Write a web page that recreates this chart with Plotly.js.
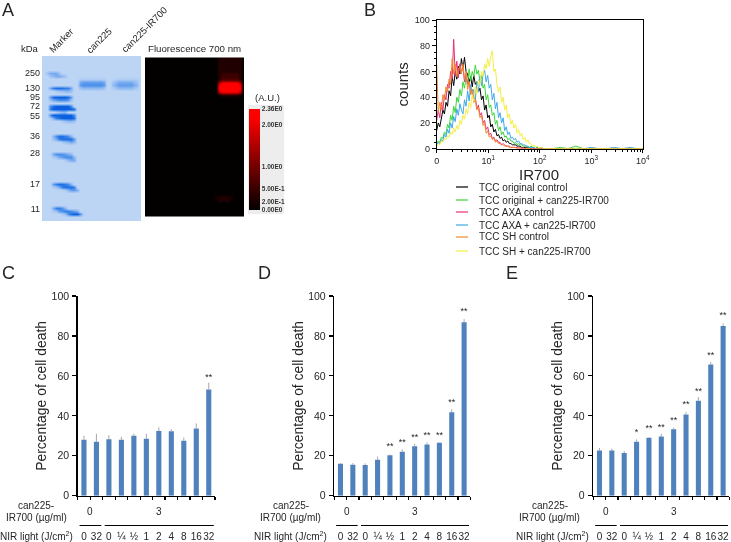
<!DOCTYPE html>
<html><head><meta charset="utf-8">
<script src="https://cdn.plot.ly/plotly-3.0.1.min.js"></script>
<style>html,body{margin:0;padding:0;background:#fff}#chart{width:731px;height:542px;filter:blur(0.35px)}</style>
</head><body><div id="chart"></div>
<script>
// ---------- Panel A: gel image rows (digit = stain intensity 0-9), 3 px cells
const gelRows = [
"","","","","",
"0244420000",
"0023443200",
"000000000000111111111000111111110",
"000000000000455555554002344444320",
"000000000000566666665003455555430",
"004788877400233333332001233333210",
"000012233200",
"",
"0058999985",
"0024566652",
"",
"0068999996",
"00799999998",
"00001233",
"00699999996",
"00147899998",
"00000012332",
"","","","",
"0003688763",
"00024788885",
"00000012343",
"","","",
"0004666543",
"00012456663",
"00000001344",
"","","","","","","",
"0005788763",
"00012478887",
"000000013554",
"","","","","",
"00047763",
"000125677654",
"00000012689961",
"",""
];
const fluoRows = [
"000000000000000000000000111111110",
"000000000000000000000000111111110",
"000000000000000000000000111111110",
"000000000000000000000000111111110",
"000000000000000000000000111111110",
"000000000000000000000000122222210",
"000000000000000000000000122222210",
"000000000000000000000000233333320",
"000000000000000000000000699999960",
"000000000000000000000000899999980",
"000000000000000000000000899999980",
"000000000000000000000000688888860",
"000000000000000000000000011111100",
"","","","","","","","","","","","","","","","","",
"","","","","","","","","","","","","","","","",
"000000000000000000000001111110",
"000000000000000000000000111100",
"","","","",""
];
const kdaLabels = ["250","130","95","72","55","36","28","17","11"];
const kdaRowPos = [17,32,41,50,60,80,97,128,153];
const scaleVals = [0,0.2,0.5,1,2,2.36];
const scaleText = ["0.00E0","2.00E-1","5.00E-1","1.00E0","2.00E0","2.36E0"];

// ---------- Panel B: flow histograms
const channelLog = [0,.03,.06,.09,.12,.15,.18,.21,.24,.27,
.3,.33,.36,.39,.42,.45,.48,.51,.54,.57,
.6,.63,.66,.69,.72,.75,.78,.81,.84,.87,
.9,.93,.96,.99,1.02,1.05,1.08,1.11,1.14,1.17,
1.2,1.23,1.26,1.29,1.32,1.35,1.38,1.41,1.44,1.47,
1.5,1.53,1.56,1.59,1.62,1.65,1.68,1.71,1.74,1.77,
1.8,1.83,1.86,1.89,1.92,1.95,1.98,2.01,2.04,2.07,
2.1,2.25,2.4,2.55,2.7,2.85,3,3.15,3.3,3.45,3.6,3.75,3.9,4];
const origControl = [14,20,17,24,30,27,36,33,45,41,
56,49,60,54,64,58,70,62,71,60,
58,52,56,48,57,50,52,44,47,38,
41,30,34,24,26,17,19,13,15,10,
11,8,9,6,7,5,6,4,4,3,
3,3,2,2,2,1,1,1,1,1,
1,0,1,0,0,1,0,0,0,0,
0,0,0,0,0,0,0,0,0,0,0,0,0,0];
const origIR = [4,6,5,9,8,13,11,19,16,26,
22,33,28,40,36,46,41,52,47,55,
50,62,53,60,56,65,58,61,52,57,
47,50,38,42,32,34,26,28,19,22,
14,17,11,13,9,10,7,8,6,6,
4,5,3,4,3,3,2,2,2,1,
1,2,1,1,0,1,0,1,0,0,
0,0,1,0,2,0,0,0,0,0,0,0,0,0];
const axaControl = [22,30,24,36,30,42,38,50,47,60,
54,85,57,68,55,66,60,63,52,58,
50,52,43,46,38,40,31,34,26,28,
20,22,15,17,11,12,8,9,6,7,
5,5,3,4,3,2,2,2,1,1,
1,1,1,0,1,0,0,0,1,0,
0,0,0,0,0,0,0,0,0,0,
0,0,0,0,0,0,0,0,0,0,0,0,0,0];
const axaIR = [3,5,4,7,6,11,9,15,12,20,
16,25,21,31,26,35,30,27,38,33,
45,37,50,42,46,38,52,44,56,49,
58,61,52,57,47,50,38,43,31,36,
24,28,20,24,14,17,11,13,8,9,
7,8,5,6,4,4,3,3,2,2,
1,1,1,1,0,1,0,0,1,0,
0,0,0,0,0,0,1,0,0,1,0,1,0,0];
const shControl = [65,28,36,30,42,38,48,44,54,50,
70,58,66,56,62,64,58,66,54,60,
46,52,42,46,36,38,30,32,24,26,
18,20,12,14,9,10,7,8,5,6,
4,4,3,3,2,2,2,1,1,1,
1,1,0,1,0,0,1,0,0,0,
0,0,0,0,0,0,0,0,0,0,
0,0,0,0,0,0,0,0,0,0,0,0,0,0];
const shIR = [2,4,3,6,5,8,7,10,9,13,
11,16,13,18,15,22,19,26,23,31,
27,36,32,42,37,48,43,54,50,60,
56,66,62,70,64,72,76,60,62,50,
44,48,36,40,30,34,24,27,19,22,
16,19,12,15,10,12,7,9,5,7,
4,4,2,3,1,2,1,1,1,0,
0,0,0,0,0,0,0,0,0,0,0,0,0,0];
const flowNames = ["TCC original control","TCC original + can225-IR700","TCC AXA control","TCC AXA + can225-IR700","TCC SH control","TCC SH + can225-IR700"];
const flowColors = ["#000000","#39d639","#e8307a","#3fa9e8","#f08a2c","#f5ee45"];

// ---------- Panels C, D, E: cell death bars
const barPos = [0,1,2,3,4,5,6,7,8,9,10];
const doseLabels = ["0","32","0","¼","½","1","2","4","8","16","32"];
const cValues = [28,27,28.3,28,30,28.5,32.4,32.3,27.5,33.7,53.2];
const cErrors = [2,4,2,1.5,1,2.5,1.8,1,1.6,2.5,3.4];
const cStarPos = [10], cStarY = [59], cStarText = ["**"];
const dValues = [16,15.5,15.4,18,20.2,22,24.7,25.7,26.5,41.8,86.9];
const dErrors = [0.4,0.8,0.8,1.6,0.5,1.2,1.2,1,0.2,1.5,1.5];
const dStarPos = [4,5,6,7,8,9,10], dStarY = [24.3,26.5,29,30,30,46.7,92], dStarText = ["**","**","**","**","**","**","**"];
const eValues = [22.6,22.6,21.4,27,29,29.6,33.3,40.7,47.6,65.7,85];
const eErrors = [1.3,1,1,1.2,0.3,1.4,0.8,1.2,1.8,1.2,1.2];
const eStarPos = [3,4,5,6,7,8,9,10], eStarY = [31.5,33.5,34,37.4,45.4,52,70,90], eStarText = ["*","**","**","**","**","**","**","**"];
const edgeTicks = [-0.5,0.5,1.5,2.5,3.5,4.5,5.5,6.5,7.5,8.5,9.5,10.5];

// ---------- helpers
const W = 731, H = 542;
const FONT = "Liberation Sans, Arial, sans-serif", INK = "#262626";
const domX = (a,b)=>[a/W,b/W], domY = (t,b)=>[1-b/H,1-t/H];
const px = x=>x/W, py = y=>1-y/H;
const digits = (rows,scale)=>rows.map(r=>r.padEnd(33,"0").split("").map(c=>+c*scale));
const note = (text,x,y,size,extra)=>Object.assign({text,x:px(x),y:py(y),xref:"paper",yref:"paper",showarrow:false,
  font:{family:FONT,size,color:INK},xanchor:"center",yanchor:"middle"},extra||{});

const gelX = digits(gelRows,1)[0].map((_,i)=>1.5+3*i);
const gelY = gelRows.map((_,i)=>1.5+3*i);

const traces = [
 {type:"heatmap",xaxis:"x",yaxis:"y",x:gelX,y:gelY,z:digits(gelRows,1),zmin:0,zmax:9,zsmooth:"best",showscale:false,
  colorscale:[[0,"#BDD5F5"],[0.33,"#8FB9F1"],[0.66,"#4A90EB"],[1,"#0B5FE0"]]},
 {type:"heatmap",xaxis:"x2",yaxis:"y2",x:gelX,y:gelY,z:digits(fluoRows,2.36/9),zmin:0,zmax:2.36,zsmooth:"best",
  colorscale:[[0,"#030000"],[0.42,"#700000"],[0.92,"#ff0000"],[1,"#ff0000"]],
  colorbar:{thicknessmode:"pixels",thickness:11,lenmode:"pixels",len:109,x:px(248),xanchor:"left",y:py(105),yanchor:"top",
    xpad:1,ypad:4,bgcolor:"#EDEDED",outlinewidth:0,tickmode:"array",tickvals:scaleVals,ticktext:scaleText,ticks:"",
    tickfont:{family:FONT,size:6.5,color:"#333",weight:"bold"}}}
];
flowNames.forEach((n,i)=>{
  const ys=[origControl,origIR,axaControl,axaIR,shControl,shIR][i];
  traces.push({type:"scatter",mode:"lines",name:n,xaxis:"x3",yaxis:"y3",x:channelLog.map(p=>Math.pow(10,p)),y:ys,
    line:{color:flowColors[i],width:1},cliponaxis:true,showlegend:false});
});
[[cValues,cErrors,cStarPos,cStarY,cStarText],[dValues,dErrors,dStarPos,dStarY,dStarText],[eValues,eErrors,eStarPos,eStarY,eStarText]].forEach((s,i)=>{
  const a=i+4;
  traces.push({type:"bar",xaxis:"x"+a,yaxis:"y"+a,x:barPos,y:s[0],width:0.41,marker:{color:"#4F81BD"},showlegend:false,
    error_y:{type:"data",array:s[1],arrayminus:s[1].map(()=>0),symmetric:false,color:"#A6A6A6",thickness:1,width:0}});
  traces.push({type:"scatter",mode:"text",xaxis:"x"+a,yaxis:"y"+a,x:s[2],y:s[3],text:s[4],textposition:"middle center",
    textfont:{family:FONT,size:9,color:INK},cliponaxis:false,showlegend:false});
});

const hidden = {showgrid:false,zeroline:false,showline:false,ticks:"",showticklabels:false};
const layout = {
  width:W,height:H,margin:{l:0,r:0,t:0,b:0},paper_bgcolor:"#fff",plot_bgcolor:"#fff",showlegend:false,
  font:{family:FONT,color:INK},
  xaxis:Object.assign({},hidden,{domain:domX(42,141.7),range:[0,99.7]}),
  yaxis:Object.assign({},hidden,{domain:domY(56,221.7),range:[165.7,0],showticklabels:true,tickmode:"array",tickvals:kdaRowPos,ticktext:kdaLabels,
    tickfont:{family:FONT,size:9,color:INK},ticklabelstandoff:1}),
  xaxis2:Object.assign({},hidden,{anchor:"y2",domain:domX(145,244.7),range:[0,99.7]}),
  yaxis2:Object.assign({},hidden,{anchor:"x2",domain:domY(56,221.7),range:[165.7,0]}),
  xaxis3:{anchor:"y3",domain:domX(436.7,642.7),type:"log",range:[0,4],showgrid:false,zeroline:false,showline:true,mirror:true,linecolor:"#000",linewidth:1,
    ticks:"outside",ticklen:3,tickcolor:"#000",tickmode:"array",tickvals:[1,10,100,1000,10000],
    ticktext:["0","10<sup>1</sup>","10<sup>2</sup>","10<sup>3</sup>","10<sup>4</sup>"],tickfont:{family:FONT,size:9,color:INK},
    minor:{tickmode:"array",tickvals:[2,3,4,5,6,7,8,9,20,30,40,50,60,70,80,90,200,300,400,500,600,700,800,900,2000,3000,4000,5000,6000,7000,8000,9000],ticks:"outside",ticklen:2,tickcolor:"#000"}},
  yaxis3:{anchor:"x3",domain:domY(20,148.7),range:[0,100],showgrid:false,zeroline:false,showline:true,mirror:true,linecolor:"#000",linewidth:1,
    ticks:"outside",ticklen:4,tickcolor:"#000",dtick:20,tickfont:{family:FONT,size:9,color:INK},
    minor:{dtick:5,ticks:"outside",ticklen:2,tickcolor:"#000"},
    title:{text:"counts",font:{family:FONT,size:15,color:INK},standoff:2}},
  shapes:[],
  annotations:[
    note("A",8,10,18),note("B",370,10,18),note("C",8,273,18),note("D",264,273,18),note("E",512,273,18),
    note("IR700",538.5,174.5,15),
    note("kDa",30,48,9.5),
    note("Marker",60.7,40,9.5,{textangle:-45}),note("can225",98.7,40,9.5,{textangle:-45}),note("can225-IR700",144,29,9.5,{textangle:-45}),
    note("Fluorescence 700 nm",194.5,48,9.7),note("(A.U.)",267,97,9.5)
  ]
};
// Legend of panel B
[187,200,212,225,237,251].forEach((y,i)=>{
  layout.shapes.push({type:"line",xref:"paper",yref:"paper",x0:px(456),x1:px(468),y0:py(y),y1:py(y),line:{color:flowColors[i],width:1.2}});
  layout.annotations.push(note(flowNames[i],477,y,10,{xanchor:"left"}));
});
// Bar panels
[[77.7,215,4,36,36.7],[334.3,470.3,5,290.5,290],[593.3,729.3,6,549.5,552]].forEach(p=>{
  const n=p[2];
  layout["xaxis"+n]={anchor:"y"+n,domain:domX(p[0],p[1]),range:[-0.5,10.5],showgrid:false,zeroline:false,showline:true,linecolor:"#000",linewidth:1.5,
    tickmode:"array",tickvals:barPos,ticktext:doseLabels,ticks:"",ticklabelstandoff:31,tickangle:0,tickfont:{family:FONT,size:10,color:INK},
    minor:{tickmode:"array",tickvals:edgeTicks,ticks:"outside",ticklen:3,tickcolor:"#000",tickwidth:1.2}};
  layout["yaxis"+n]={anchor:"x"+n,domain:domY(296,495.7),range:[0,100],showgrid:false,zeroline:false,showline:true,linecolor:"#000",linewidth:1.5,
    ticks:"outside",ticklen:4,tickcolor:"#000",tickwidth:1.2,dtick:20,ticklabelstandoff:1,tickfont:{family:FONT,size:10.5,color:INK},
    title:{text:"Percentage of cell death",font:{family:FONT,size:13.9,color:INK},standoff:1}};
  const cx=p[3];
  layout.annotations.push(note("can225-",cx,505,10),note("IR700 (µg/ml)",cx,517,10),note("NIR light (J/cm<sup>2</sup>)",p[4],536,10));
  layout.annotations.push({text:"0",xref:"x"+n,x:0.5,yref:"paper",y:py(511),xanchor:"center",yanchor:"middle",showarrow:false,font:{family:FONT,size:10,color:INK}});
  layout.annotations.push({text:"3",xref:"x"+n,x:6,yref:"paper",y:py(511),xanchor:"center",yanchor:"middle",showarrow:false,font:{family:FONT,size:10,color:INK}});
  layout.shapes.push({type:"line",xref:"x"+n,x0:-0.35,x1:1.39,yref:"paper",y0:py(525.5),y1:py(525.5),line:{color:"#000",width:1}});
  layout.shapes.push({type:"line",xref:"x"+n,x0:1.66,x1:10.4,yref:"paper",y0:py(525.5),y1:py(525.5),line:{color:"#000",width:1}});
});
Plotly.newPlot("chart",traces,layout,{displayModeBar:false,staticPlot:true});
</script></body></html>
